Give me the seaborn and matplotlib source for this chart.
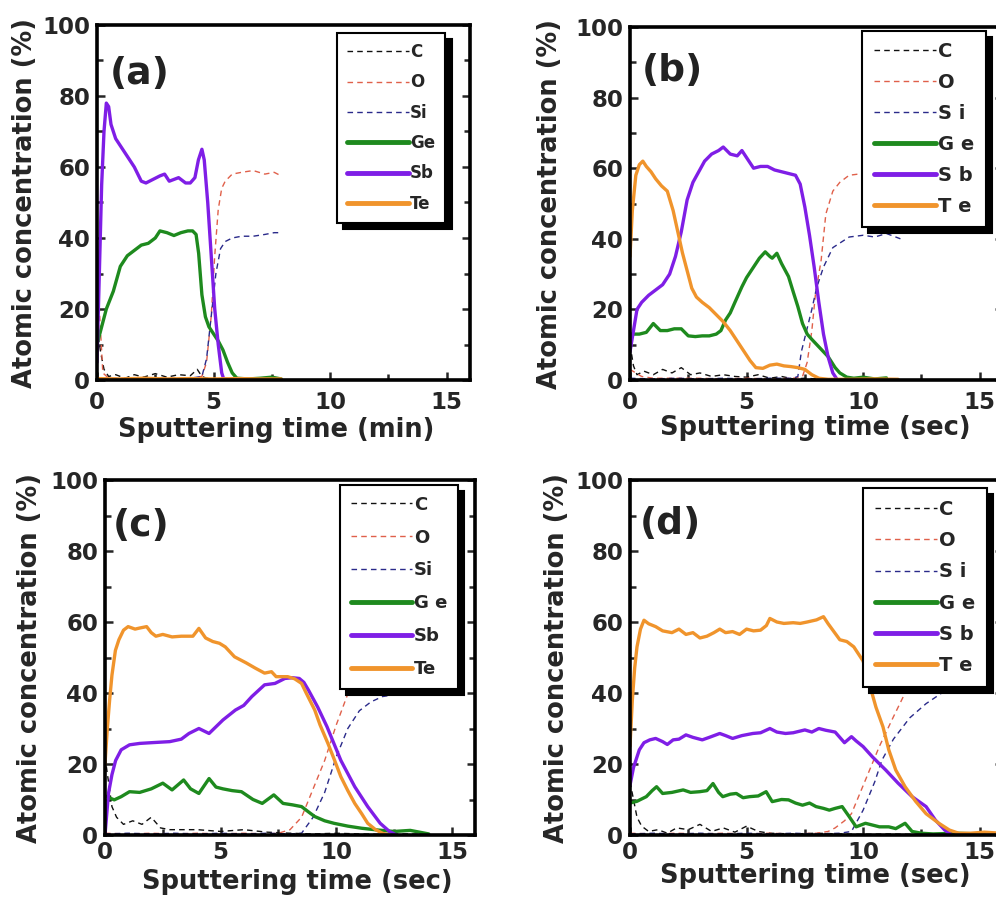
import matplotlib
matplotlib.use("Agg")
import matplotlib.pyplot as plt
from matplotlib.ticker import MultipleLocator
import seaborn as sns

sns.set_style("ticks")
plt.rcParams["font.family"] = ["DejaVu Sans"]
plt.rcParams["font.weight"] = "bold"

# ---------------- Panel (a): sputtering time in min ----------------
a_C_x = [0, 0.15, 0.3, 0.5, 0.8, 1.2, 1.6, 2.0, 2.5, 3.0, 3.5, 4.0, 4.3, 4.5, 4.7, 5.0, 5.5, 6.0, 7.0, 7.9]
a_C_y = [15, 8, 3, 1, 1.5, 0.5, 1.5, 0.8, 1.8, 0.8, 1.5, 1.2, 3, 1, 0.5, 0.3, 0.5, 0.3, 0.4, 0.3]
a_O_x = [0, 0.1, 0.25, 0.5, 1, 2, 3, 4, 4.5, 4.7, 4.9, 5.05, 5.2, 5.35, 5.5, 5.8, 6.2, 6.7, 7.2, 7.6, 7.9]
a_O_y = [40, 20, 2, 0.5, 0.5, 0.5, 0.5, 0.5, 1, 5, 18, 35, 48, 54, 56, 58, 58.5, 59, 58, 58.5, 57.5]
a_Si_x = [0, 1, 2, 3, 4, 4.5, 4.7, 4.9, 5.1, 5.3, 5.5, 5.8, 6.2, 6.7, 7.2, 7.6, 7.9]
a_Si_y = [0.3, 0.3, 0.5, 0.3, 0.5, 1, 6, 18, 30, 37, 39, 40, 40.5, 40.5, 41, 41.5, 41.5]
a_Ge_x = [0, 0.2, 0.4, 0.7, 1.0, 1.3, 1.6, 1.9, 2.2, 2.5, 2.7, 3.0, 3.3, 3.6, 3.9, 4.1, 4.25, 4.36, 4.5,
          4.65, 4.8, 5.0, 5.2, 5.4, 5.6, 5.8, 6.0, 6.5, 7.0, 7.5, 7.9]
a_Ge_y = [10, 15, 20, 25, 32, 35, 36.5, 38, 38.5, 40, 42, 41.5, 40.7, 41.5, 42, 42, 41, 35.7, 24,
          17.8, 15, 13, 11, 8.5, 5, 2, 0.5, 0.3, 0.5, 0.8, 0.3]
a_Sb_x = [0, 0.1, 0.2, 0.3, 0.4, 0.5, 0.6, 0.8, 1.0, 1.3, 1.6, 1.9, 2.1, 2.4, 2.7, 2.9, 3.1, 3.3, 3.5,
          3.8, 4.0, 4.2, 4.35, 4.5, 4.6, 4.75, 4.9, 5.05, 5.2, 5.35, 5.45]
a_Sb_y = [5, 30, 55, 70, 78, 77, 72, 68, 66, 63, 60, 56, 55.5, 56.5, 57.5, 58, 56, 56.5, 57,
          55.5, 55.5, 57, 62, 65, 62, 50, 35, 20, 10, 2, 0]
a_Te_x = [0, 1, 2, 3, 4, 5, 6, 7, 7.9]
a_Te_y = [0.4, 0.3, 0.5, 0.3, 0.4, 0.3, 0.4, 0.3, 0.3]

# ---------------- Panel (b) ----------------
b_C_x = [0, 0.15, 0.3, 0.6, 1.0, 1.4, 1.8, 2.2, 2.6, 3.0, 3.5, 4.0, 4.5, 5.0, 5.5, 6.0, 6.5, 7.0, 7.5, 8.0, 9.0, 10.0, 11.0, 11.5]
b_C_y = [10, 4, 1.5, 2.5, 1.5, 3, 2, 3.5, 1.5, 2, 1, 1.5, 1, 0.8, 1.5, 0.5, 1, 0.3, 0.5, 0.3, 0.2, 0.3, 0.2, 0.3]
b_O_x = [0, 0.5, 1, 2, 3, 4, 5, 6, 7, 7.4, 7.6, 7.8, 7.95, 8.2, 8.4, 8.7, 9.0, 9.4, 10.0, 10.5, 11.0, 11.5]
b_O_y = [3, 1, 0.5, 0.5, 0.5, 0.3, 0.5, 0.3, 0.5, 1, 5, 14, 24, 34, 47, 53.5, 56, 58, 58.5, 58, 58.5, 58]
b_Si_x = [0, 1, 2, 3, 4, 5, 6, 7.0, 7.2, 7.35, 7.5, 7.8, 8.0, 8.3, 8.7, 9.4, 10.0, 10.5, 11.0, 11.6]
b_Si_y = [0.5, 0.3, 0.5, 0.3, 0.5, 0.3, 0.5, 0.5, 1, 8, 12, 20, 26, 32, 37.5, 40.5, 41, 40.5, 41.5, 40]
b_Ge_x = [0, 0.4, 0.7, 1.0, 1.3, 1.6, 1.9, 2.2, 2.5, 2.8, 3.1, 3.4, 3.7, 3.9, 4.1, 4.3, 4.5, 4.8, 5.0,
          5.3, 5.55, 5.8, 6.0, 6.1, 6.3, 6.5, 6.8, 7.0, 7.2, 7.4, 7.6, 7.8, 8.1, 8.5, 8.8, 9.0, 9.3,
          9.6, 10.0, 10.5, 11.0]
b_Ge_y = [13, 13, 13.5, 16, 14, 14, 14.5, 14.5, 12.5, 12.3, 12.5, 12.5, 13, 14, 17, 19, 22, 26.4, 29,
          32, 34.5, 36.3, 35, 34.5, 35.9, 33, 29.3, 25, 20.8, 16, 13, 11.5, 9.4, 6.6, 3.5, 2, 0.8,
          0.5, 0.8, 0.3, 0.6]
b_Sb_x = [0, 0.15, 0.3, 0.5, 0.8, 1.1, 1.4, 1.7, 1.95, 2.2, 2.45, 2.7, 2.95, 3.2, 3.5, 3.8, 4.0, 4.3,
          4.6, 4.8, 5.0, 5.3, 5.6, 5.9, 6.2, 6.5, 6.8, 7.1, 7.3, 7.5, 7.7, 7.9, 8.1, 8.3, 8.5, 8.7, 8.9]
b_Sb_y = [8, 14, 20, 22, 24, 25.5, 27, 30, 35, 42, 51, 56, 59, 62, 64, 65, 66, 64,
          63.5, 65, 63, 60, 60.5, 60.5, 59.5, 59, 58.5, 58, 55.5, 49, 41, 32, 22, 13, 6.5, 2, 0]
b_Te_x = [0, 0.1, 0.25, 0.4, 0.55, 0.7, 0.9, 1.1, 1.35, 1.6, 1.85, 2.05, 2.25, 2.45, 2.65, 2.85, 3.1,
          3.4, 3.7, 4.0, 4.3, 4.6, 4.9, 5.15, 5.4, 5.7, 6.0, 6.3, 6.6, 6.9, 7.2, 7.5, 7.8, 8.1, 8.5,
          9.5, 10.5, 11.5]
b_Te_y = [35, 48, 58, 61, 62, 60.5, 59, 57, 55, 53.5, 48, 42, 36, 31, 26, 23.5, 22,
          20.5, 18.5, 16.5, 14, 11, 8, 5.5, 3.5, 3.3, 4.2, 4.5, 4, 3.8, 3.5, 3, 1.5, 0.5, 0.2,
          0.2, 0.3, 0.2]

# ---------------- Panel (c) ----------------
c_C_x = [0, 0.15, 0.3, 0.5, 0.8, 1.2, 1.6, 2.0, 2.4, 2.8, 3.3, 4, 5, 6, 7, 8, 9, 10, 11, 12, 13, 14]
c_C_y = [22, 15, 8, 5, 3, 4, 3, 5, 2, 1.5, 1.5, 1.5, 1, 1.5, 0.8, 0.5, 0.3, 0.5, 0.3, 0.2, 0.3, 0.2]
c_O_x = [0, 1, 2, 3, 4, 5, 6, 7, 7.5, 8.0, 8.5, 9.0, 9.5, 10.0, 10.4, 10.8, 11.3, 12.0, 13.0, 14.0]
c_O_y = [0.5, 0.3, 0.5, 0.3, 0.5, 0.3, 0.5, 0.3, 0.5, 1.5, 5, 13, 21, 31, 38, 45, 52, 56, 58, 58]
c_Si_x = [0, 1, 2, 3, 4, 5, 6, 7, 8, 8.5, 9.0, 9.5, 10.0, 10.5, 11.0, 11.5, 12.0, 13.0, 14.0]
c_Si_y = [0.3, 0.5, 0.3, 0.5, 0.3, 0.5, 0.3, 0.5, 0.3, 0.5, 5, 12, 22, 30, 35, 37.5, 39, 40, 40]
c_Ge_x = [0, 0.4, 0.7, 1.06, 1.5, 2.0, 2.5, 2.9, 3.4, 3.7, 4.06, 4.5, 4.8, 5.1, 5.5, 5.9, 6.4, 6.8,
          7.3, 7.7, 8.1, 8.5, 8.8, 9.07, 9.5, 9.9, 10.5, 11.1, 11.8, 12.5, 13.2, 13.6, 14.0]
c_Ge_y = [11, 9.9, 10.8, 12.2, 12, 13, 14.6, 12.7, 15.5, 13, 11.7, 15.9, 13.5, 13, 12.5, 12.2, 10, 8.9,
          11.3, 8.9, 8.5, 8, 6.5, 5.2, 4, 3.3, 2.5, 1.9, 1.4, 1, 1.3, 0.8, 0.3]
c_Sb_x = [0, 0.15, 0.3, 0.46, 0.7, 1.06, 1.5, 2.0, 2.8, 3.3, 3.63, 4.06, 4.5, 5.1, 5.64, 6.0, 6.35,
          6.9, 7.35, 7.78, 8.1, 8.4, 8.6, 8.8, 9.2, 9.6, 10.2, 10.8, 11.36, 11.9, 12.3, 12.6]
c_Sb_y = [0, 11.7, 17, 21, 24, 25.4, 25.8, 26, 26.3, 27, 28.6, 30, 28.6, 32.4, 35.2, 36.5, 39,
          42.3, 42.7, 44.1, 44.3, 44.1, 43, 40.8, 36, 30.5, 21, 13.6, 8, 3.3, 1, 0]
c_Te_x = [0, 0.1, 0.2, 0.3, 0.45, 0.6, 0.8, 1.0, 1.3, 1.5, 1.8, 2.0, 2.2, 2.5, 2.9, 3.3, 3.8, 4.06,
          4.35, 4.66, 4.95, 5.2, 5.6, 6.1, 6.5, 6.9, 7.2, 7.4, 7.9, 8.2, 8.5, 8.7, 9.07, 9.3, 9.64,
          9.9, 10.2, 10.5, 10.8, 11.1, 11.36, 11.7, 12.0, 12.3]
c_Te_y = [20, 30, 38, 45, 52, 55, 57.7, 58.7, 58, 58.3, 58.7, 57, 56, 56.5, 55.8, 56, 56, 58.2,
          55.5, 54.5, 54, 53, 50.2, 48.5, 47, 45.6, 46, 44.6, 44.6, 44, 42.7, 40, 35.2, 31, 25.8,
          21.5, 16.4, 12.5, 8.9, 6, 3.3, 1.5, 0.5, 0]

# ---------------- Panel (d) ----------------
d_C_x = [0, 0.15, 0.3, 0.5, 0.8, 1.2, 1.6, 2.0, 2.5, 3.0, 3.5, 4.0, 4.5, 5.0, 5.5, 6.0, 7, 8, 9, 10, 11, 12, 13, 14, 15, 16]
d_C_y = [15, 10, 5, 2.5, 1, 1.5, 0.5, 2, 1.5, 3, 1, 2, 0.8, 2.5, 1, 0.5, 0.3, 0.5, 0.3, 0.2, 0.3, 0.2, 0.3, 0.2, 0.3, 0.2]
d_O_x = [0, 1, 2, 3, 4, 5, 6, 7, 8, 8.5, 8.8, 9.2, 9.5, 10.1, 10.7, 11.3, 11.8, 12.3, 12.8, 13.3, 14, 15, 16]
d_O_y = [0.5, 0.3, 0.5, 0.3, 0.5, 0.3, 0.5, 0.3, 0.5, 1, 2, 4, 6, 15.5, 25, 33.3, 40, 47, 53, 56, 58, 58, 58]
d_Si_x = [0, 1, 2, 3, 4, 5, 6, 7, 8, 9.0, 9.5, 10.0, 10.5, 10.8, 11.3, 12.0, 12.7, 13.6, 14.5, 15.5, 16]
d_Si_y = [0.3, 0.5, 0.3, 0.5, 0.3, 0.5, 0.3, 0.5, 0.3, 0.5, 1, 7, 15, 21, 27, 33, 37, 41, 42, 42, 42]
d_Ge_x = [0, 0.3, 0.7, 0.95, 1.14, 1.4, 1.8, 2.28, 2.6, 2.99, 3.3, 3.56, 3.8, 3.98, 4.3, 4.56, 4.85,
          5.13, 5.5, 5.84, 6.1, 6.5, 6.8, 7.1, 7.4, 7.7, 7.98, 8.3, 8.55, 8.8, 9.1, 9.4, 9.7, 10.1,
          10.7, 11.1, 11.4, 11.8, 12.1, 12.5, 13.0, 14.0, 15.0]
d_Ge_y = [9, 9.5, 10.8, 12.5, 13.6, 11.7, 12, 12.7, 12, 12.2, 12.5, 14.5, 12, 10.8, 11.5, 11.7, 10.5,
          10.8, 11, 12.2, 9.4, 10, 9.9, 9, 8.4, 9, 8, 7.5, 7, 7.5, 8, 5.2, 2.3, 3.3,
          2.3, 2.3, 1.8, 3.3, 1, 0.5, 0.3, 0.5, 0.3]
d_Sb_x = [0, 0.15, 0.4, 0.6, 0.85, 1.1, 1.4, 1.6, 1.85, 2.1, 2.4, 2.7, 3.1, 3.4, 3.85, 4.1, 4.4, 4.8,
          5.27, 5.6, 6.0, 6.3, 6.67, 7.0, 7.5, 7.8, 8.1, 8.4, 8.8, 9.0, 9.2, 9.5, 9.7, 10.0, 10.4,
          10.97, 11.5, 12.1, 12.7, 13.1, 13.5, 13.8]
d_Sb_y = [14, 19, 24, 26, 26.8, 27.2, 26.3, 25.5, 26.8, 27, 28.2, 27.5, 26.8, 27.5, 28.6, 28, 27.2, 28,
          28.6, 28.8, 30, 29, 28.6, 28.8, 29.6, 29, 30, 29.5, 29, 27.5, 26, 27.7, 26.5, 24.9, 22,
          18.3, 14.6, 10.8, 8, 4.2, 1.4, 0]
d_Te_x = [0, 0.1, 0.2, 0.3, 0.45, 0.6, 0.8, 1.1, 1.4, 1.8, 2.1, 2.4, 2.7, 3.0, 3.3, 3.6, 3.85, 4.1,
          4.4, 4.7, 5.0, 5.3, 5.6, 5.85, 6.0, 6.3, 6.6, 7.0, 7.3, 7.6, 8.0, 8.3, 8.5, 8.7, 9.0, 9.3,
          9.6, 10.0, 10.25, 10.55, 10.85, 11.1, 11.4, 11.8, 12.25, 12.7, 13.25, 13.7, 14.1, 14.6,
          15.2, 15.9]
d_Te_y = [25, 38, 47, 53, 58, 60.5, 59.5, 58.7, 57.5, 57, 58, 56.5, 57, 55.5, 56, 57, 58, 57,
          57.3, 56.5, 58, 57.5, 57.7, 59, 61, 60, 59.6, 59.8, 59.6, 60, 60.6, 61.5, 59.5, 57.7, 55, 54.5,
          53, 49, 43, 36, 30.5, 24, 18.3, 13.6, 9.5, 6, 3.3, 1.4, 0.5, 0.5,
          0.8, 0.5]

# legend texts as printed in each panel
labels_a = ["C", "O", "Si", "Ge", "Sb", "Te"]
labels_b = ["C", "O", "S i", "G e", "S b", "T e"]
labels_c = ["C", "O", "Si", "G e", "Sb", "Te"]
labels_d = ["C", "O", "S i", "G e", "S b", "T e"]

colors = {"C": "#111111", "O": "#e0604a", "Si": "#2a2a8a",
          "Ge": "#1e8a1e", "Sb": "#7f1ee6", "Te": "#f0942c"}
elements = ["C", "O", "Si", "Ge", "Sb", "Te"]

W, H = 996, 905
fig = plt.figure(figsize=(W / 100, H / 100), dpi=100)


def px_axes(left, top, right, bottom):
    return fig.add_axes([left / W, 1 - bottom / H, (right - left) / W, (bottom - top) / H])


panels = [
    dict(ax=px_axes(97, 25, 470, 380), tag="(a)", unit="min", labels=labels_a, legsize=12,
         legspace=0.74, handlelen=3.7,
         series=[(a_C_x, a_C_y), (a_O_x, a_O_y), (a_Si_x, a_Si_y), (a_Ge_x, a_Ge_y), (a_Sb_x, a_Sb_y), (a_Te_x, a_Te_y)],
         leg=(0.643, 0.977), tagpos=(0.035, 0.863), ylab=-0.158, xlab=(0.481, -0.105), xpad=8),
    dict(ax=px_axes(630, 27, 1003, 380), tag="(b)", unit="sec", labels=labels_b, legsize=14,
         legspace=0.61, handlelen=3.2,
         series=[(b_C_x, b_C_y), (b_O_x, b_O_y), (b_Si_x, b_Si_y), (b_Ge_x, b_Ge_y), (b_Sb_x, b_Sb_y), (b_Te_x, b_Te_y)],
         leg=(0.622, 0.99), tagpos=(0.032, 0.876), ylab=-0.18, xlab=(0.496, -0.10), xpad=8),
    dict(ax=px_axes(105, 480, 475, 835), tag="(c)", unit="sec", labels=labels_c, legsize=13,
         legspace=0.82, handlelen=3.4,
         series=[(c_C_x, c_C_y), (c_O_x, c_O_y), (c_Si_x, c_Si_y), (c_Ge_x, c_Ge_y), (c_Sb_x, c_Sb_y), (c_Te_x, c_Te_y)],
         leg=(0.635, 0.986), tagpos=(0.022, 0.87), ylab=-0.168, xlab=(0.52, -0.095), xpad=4),
    dict(ax=px_axes(630, 480, 1003, 835), tag="(d)", unit="sec", labels=labels_d, legsize=14,
         legspace=0.63, handlelen=3.2,
         series=[(d_C_x, d_C_y), (d_O_x, d_O_y), (d_Si_x, d_Si_y), (d_Ge_x, d_Ge_y), (d_Sb_x, d_Sb_y), (d_Te_x, d_Te_y)],
         leg=(0.625, 0.977), tagpos=(0.027, 0.875), ylab=-0.161, xlab=(0.496, -0.08), xpad=4),
]

for p in panels:
    ax = p["ax"]
    for el, lab, (xs, ys) in zip(elements, p["labels"], p["series"]):
        dashed = el in ("C", "O", "Si")
        sns.lineplot(x=xs, y=ys, ax=ax, color=colors[el], label=lab, estimator=None, sort=False,
                     linewidth=1.0 if dashed else 2.4,
                     linestyle=(0, (4, 3)) if dashed else "-")
    ax.set_xlim(0, 16)
    ax.set_ylim(0, 100)
    ax.xaxis.set_major_locator(MultipleLocator(5))
    ax.xaxis.set_minor_locator(MultipleLocator(2.5))
    ax.yaxis.set_major_locator(MultipleLocator(20))
    ax.yaxis.set_minor_locator(MultipleLocator(10))
    ax.tick_params(which="both", direction="in", left=True, right=True, top=False, bottom=True,
                   width=1.8, labelsize=16.5)
    ax.tick_params(which="major", length=6)
    ax.tick_params(which="minor", length=4)
    ax.tick_params(axis="y", pad=5)
    ax.tick_params(axis="x", pad=p["xpad"])
    for lbl in ax.get_xticklabels() + ax.get_yticklabels():
        lbl.set_fontweight("bold")
    for sp in ax.spines.values():
        sp.set_linewidth(2.6)
        sp.set_color("black")
    ax.set_ylabel("Atomic concentration (%)", fontsize=18.5, fontweight="bold")
    ax.set_xlabel(f"Sputtering time ({p['unit']})", fontsize=18.5, fontweight="bold")
    ax.yaxis.set_label_coords(p["ylab"], 0.5)
    ax.xaxis.set_label_coords(*p["xlab"])
    ax.text(p["tagpos"][0], p["tagpos"][1], p["tag"], transform=ax.transAxes, fontsize=27,
            fontweight="bold", ha="left", va="center", color="#222222")
    leg = ax.legend(loc="upper left", bbox_to_anchor=p["leg"], borderaxespad=0, frameon=True,
                    fancybox=False, edgecolor="black", facecolor="white", framealpha=1,
                    shadow={"ox": 4.5, "oy": -4.5, "color": "black", "alpha": 1},
                    handlelength=p["handlelen"], handletextpad=0.1, labelspacing=p["legspace"],
                    borderpad=0.6, prop={"weight": "bold", "size": p["legsize"]})
    leg.get_frame().set_linewidth(1.5)
    for ln in leg.get_lines():
        if ln.get_linewidth() > 2:
            ln.set_linewidth(3.5)

fig.savefig("out.png", dpi=100)
